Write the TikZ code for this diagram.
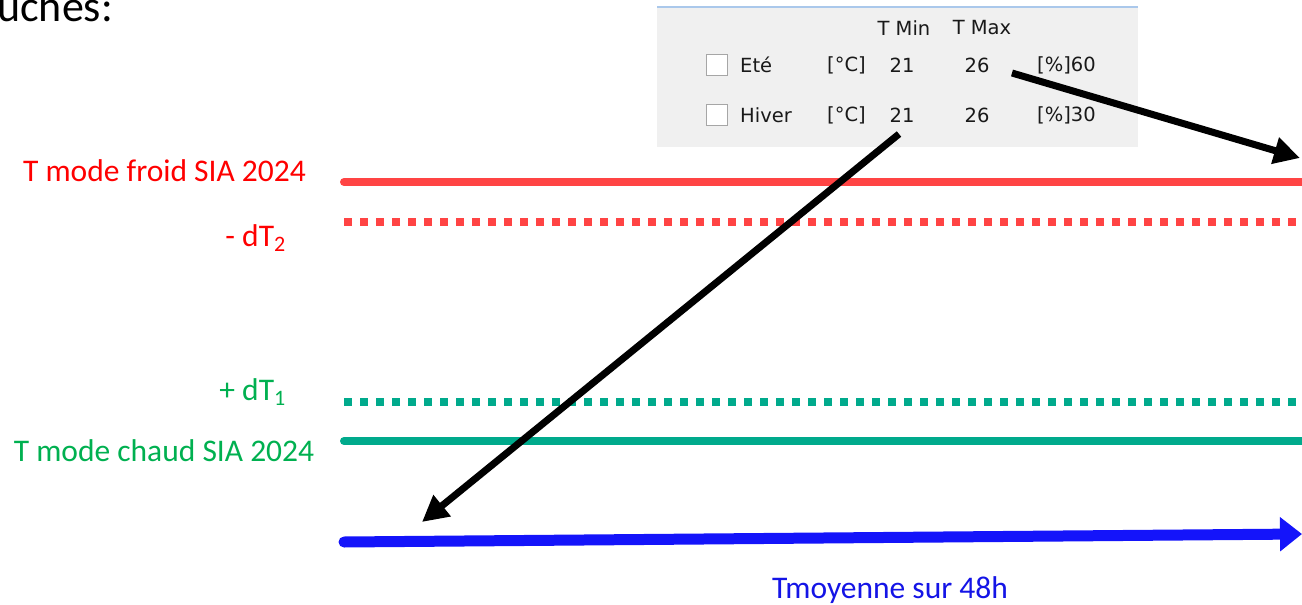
\documentclass[tikz,border=0pt]{standalone}
\usepackage{fontspec}
\setmainfont{Carlito}
\newfontfamily\uifont{DejaVu Sans}
\usetikzlibrary{arrows.meta}
\definecolor{lred}{RGB}{255,68,68}
\definecolor{tred}{RGB}{255,0,0}
\definecolor{lgreen}{RGB}{0,170,140}
\definecolor{tgreen}{RGB}{0,176,80}
\definecolor{lblue}{RGB}{20,20,250}
\definecolor{tblue}{RGB}{20,20,230}
\definecolor{panel}{RGB}{240,240,240}
\definecolor{panelline}{RGB}{170,200,235}
\tikzset{
  x=1pt, y=-1pt,
  lbl/.style={font=\fontsize{31.5}{36}\selectfont, inner sep=0pt},
  ui/.style={font=\uifont\fontsize{19.5}{22}\selectfont, inner sep=0pt, text=black!90},
  solidline/.style={line width=8pt, line cap=round},
  dotline/.style={line width=8pt, dash pattern=on 8pt off 8pt},
  blk/.style={line width=7pt, -{Triangle[length=26pt,width=26pt]}},
  cbox/.style={draw=gray!70, fill=white, minimum size=21pt, inner sep=0pt, line width=1pt}
}
\begin{document}
\begin{tikzpicture}
\useasboundingbox (0,0) rectangle (1302,605);
% title fragment
\node[anchor=base west, inner sep=0pt, font=\fontsize{44}{48}\selectfont] (title) at (-3,21) {uches:};
% panel
\fill[panel] (657,8) rectangle (1138,147);
\draw[panelline, line width=1.5pt] (657,7) -- (1138,7);
\node[ui, anchor=center] (tmin) at (904,28) {T Min};
\node[ui, anchor=center] (tmax) at (982,28) {T Max};
\node[cbox] (cb1) at (717,65) {};
\node[cbox] (cb2) at (717,115) {};
\node[ui, anchor=west] (ete) at (740,65) {Eté};
\node[ui, anchor=west] (hiver) at (740,115) {Hiver};
\node[ui, anchor=west] (u1) at (827,65) {[°C]};
\node[ui, anchor=west] (u2) at (827,115) {[°C]};
\node[ui, anchor=center] (a1) at (902,65) {21};
\node[ui, anchor=center] (a2) at (902,115) {21};
\node[ui, anchor=center] (b1) at (977,65) {26};
\node[ui, anchor=center] (b2) at (977,115) {26};
\node[ui, anchor=west] (p1) at (1037,65) {[\%]60};
\node[ui, anchor=west] (p2) at (1037,115) {[\%]30};
% lines
\coordinate (r1a) at (344,182); \coordinate (r1b) at (1310,182);
\coordinate (r2a) at (344,222); \coordinate (r2b) at (1310,222);
\coordinate (g1a) at (344,402); \coordinate (g1b) at (1310,402);
\coordinate (g2a) at (344,441); \coordinate (g2b) at (1310,441);
\draw[solidline, lred] (r1a) -- (r1b);
\draw[dotline, lred] (r2a) -- (r2b);
\draw[dotline, lgreen] (g1a) -- (g1b);
\draw[solidline, lgreen] (g2a) -- (g2b);
\coordinate (ba) at (344,542); \coordinate (bb) at (1302,534);
\draw[lblue, line width=11pt, line cap=round, -{Triangle[length=22pt,width=33pt]}] (ba) -- (bb);
% labels
\node[lbl, text=tred, anchor=center] (froid) at (164.5,171) {T mode froid SIA 2024};
\node[lbl, text=tred, anchor=east] (dt2) at (286,238) {- dT\textsubscript{2}};
\node[lbl, text=tgreen, anchor=east] (dt1) at (286,392) {+ dT\textsubscript{1}};
\node[lbl, text=tgreen, anchor=center] (chaud) at (164,451) {T mode chaud SIA 2024};
\node[lbl, text=tblue, anchor=center] (tmoy) at (890,590) {Tmoyenne sur 48h};
% black arrows
\coordinate (e1) at (1012,73); \coordinate (t1) at (1300,158);
\coordinate (e2) at (899,134); \coordinate (t2) at (422,522);
\draw[blk] (e1) -- (t1);
\draw[blk] (e2) -- (t2);
\end{tikzpicture}
\end{document}
